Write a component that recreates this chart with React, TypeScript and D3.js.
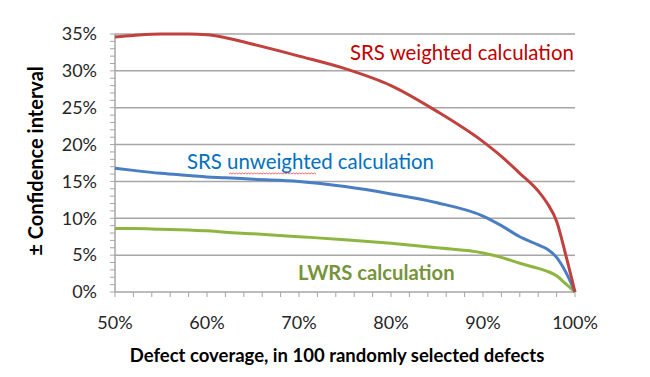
import React from "react";
import * as d3 from "d3";

const xTicks = [0.5, 0.6, 0.7, 0.8, 0.9, 1.0];
const yTicks = [0, 0.05, 0.1, 0.15, 0.2, 0.25, 0.3, 0.35];

const coverage = [0.5, 0.52, 0.55, 0.58, 0.6, 0.62, 0.65, 0.7, 0.75, 0.8, 0.85, 0.9, 0.92, 0.94, 0.96, 0.97, 0.98, 0.99, 1.0];
const srsWeighted = [0.346, 0.348, 0.35, 0.35, 0.349, 0.345, 0.336, 0.32, 0.303, 0.28, 0.245, 0.204, 0.184, 0.161, 0.137, 0.12, 0.096, 0.05, 0];
const srsUnweighted = [0.168, 0.165, 0.161, 0.158, 0.156, 0.155, 0.153, 0.15, 0.143, 0.133, 0.121, 0.103, 0.09, 0.075, 0.064, 0.058, 0.047, 0.027, 0];
const lwrs = [0.086, 0.086, 0.085, 0.084, 0.083, 0.081, 0.079, 0.075, 0.071, 0.066, 0.06, 0.053, 0.047, 0.039, 0.032, 0.028, 0.022, 0.011, 0];

const W = 650, H = 377;
const left = 115, right = 575, top = 34, bottom = 292;
const FONT = "Lato, 'Open Sans', sans-serif";

export default function App() {
  const x = d3.scaleLinear().domain([0.5, 1]).range([left, right]);
  const y = d3.scaleLinear().domain([0, 0.35]).range([bottom, top]);
  const line = d3.line<number>()
    .x((_, i) => x(coverage[i]))
    .y((d) => y(d))
    .curve(d3.curveMonotoneX);
  const yMinor = d3.range(0, 0.3501, 0.01);
  const xMinor = d3.range(0.5, 1.0001, 0.02);
  const grid = "#a6a6a6";
  const squiggle = "M229,174 " + d3.range(29).map(() => "q1.5,-2 3,0").join(" ");
  return (
    <svg width={W} height={H} style={{ position: "absolute", left: 0, top: 0 }}>
      <rect width={W} height={H} fill="#fff" />
      {yTicks.slice(1).map((t) => (
        <line key={t} x1={left} x2={right} y1={y(t)} y2={y(t)} stroke={grid} strokeWidth={1.5} />
      ))}
      <line x1={left} x2={left} y1={top} y2={bottom} stroke={grid} strokeWidth={1.5} />
      <line x1={left} x2={right} y1={bottom} y2={bottom} stroke={grid} strokeWidth={1.5} />
      {yMinor.map((t, i) => (
        <line key={i} x1={left - 5} x2={left} y1={y(t)} y2={y(t)} stroke={grid} strokeWidth={1} />
      ))}
      {xMinor.map((t, i) => (
        <line key={i} x1={x(t)} x2={x(t)} y1={bottom} y2={bottom + 5} stroke={grid} strokeWidth={1} />
      ))}
      {yTicks.map((t) => (
        <text key={t} x={97} y={y(t)} dy="0.35em" textAnchor="end" fontFamily={FONT} fontSize={18} fill="#262626">
          {d3.format(".0%")(t)}
        </text>
      ))}
      {xTicks.map((t) => (
        <text key={t} x={x(t)} y={323} dy="0.35em" textAnchor="middle" fontFamily={FONT} fontSize={18} fill="#262626">
          {d3.format(".0%")(t)}
        </text>
      ))}
      <path d={line(lwrs) || ""} fill="none" stroke="#8db53f" strokeWidth={3} />
      <path d={line(srsUnweighted) || ""} fill="none" stroke="#4a7ec2" strokeWidth={3} />
      <path d={line(srsWeighted) || ""} fill="none" stroke="#c0423f" strokeWidth={3} />
      <text x={350} y={60} fontFamily={FONT} fontSize={20.4} fill="#c00000">SRS weighted calculation</text>
      <text x={187} y={169} fontFamily={FONT} fontSize={20.4} fill="#0070c0">SRS unweighted calculation</text>
      <path d={squiggle} fill="none" stroke="#ff4040" strokeWidth={0.8} />
      <text x={298} y={280} fontFamily={FONT} fontSize={20.2} fontWeight="bold" fill="#77933c">LWRS calculation</text>
      <text transform={`translate(36,${161}) rotate(-90)`} textAnchor="middle" dy="0.35em" fontFamily={FONT} fontSize={20} fontWeight="bold" fill="#000">
        ± Confidence interval
      </text>
      <text x={337} y={356} dy="0.35em" textAnchor="middle" fontFamily={FONT} fontSize={18.5} fontWeight="bold" fill="#000">
        Defect coverage, in 100 randomly selected defects
      </text>
    </svg>
  );
}
